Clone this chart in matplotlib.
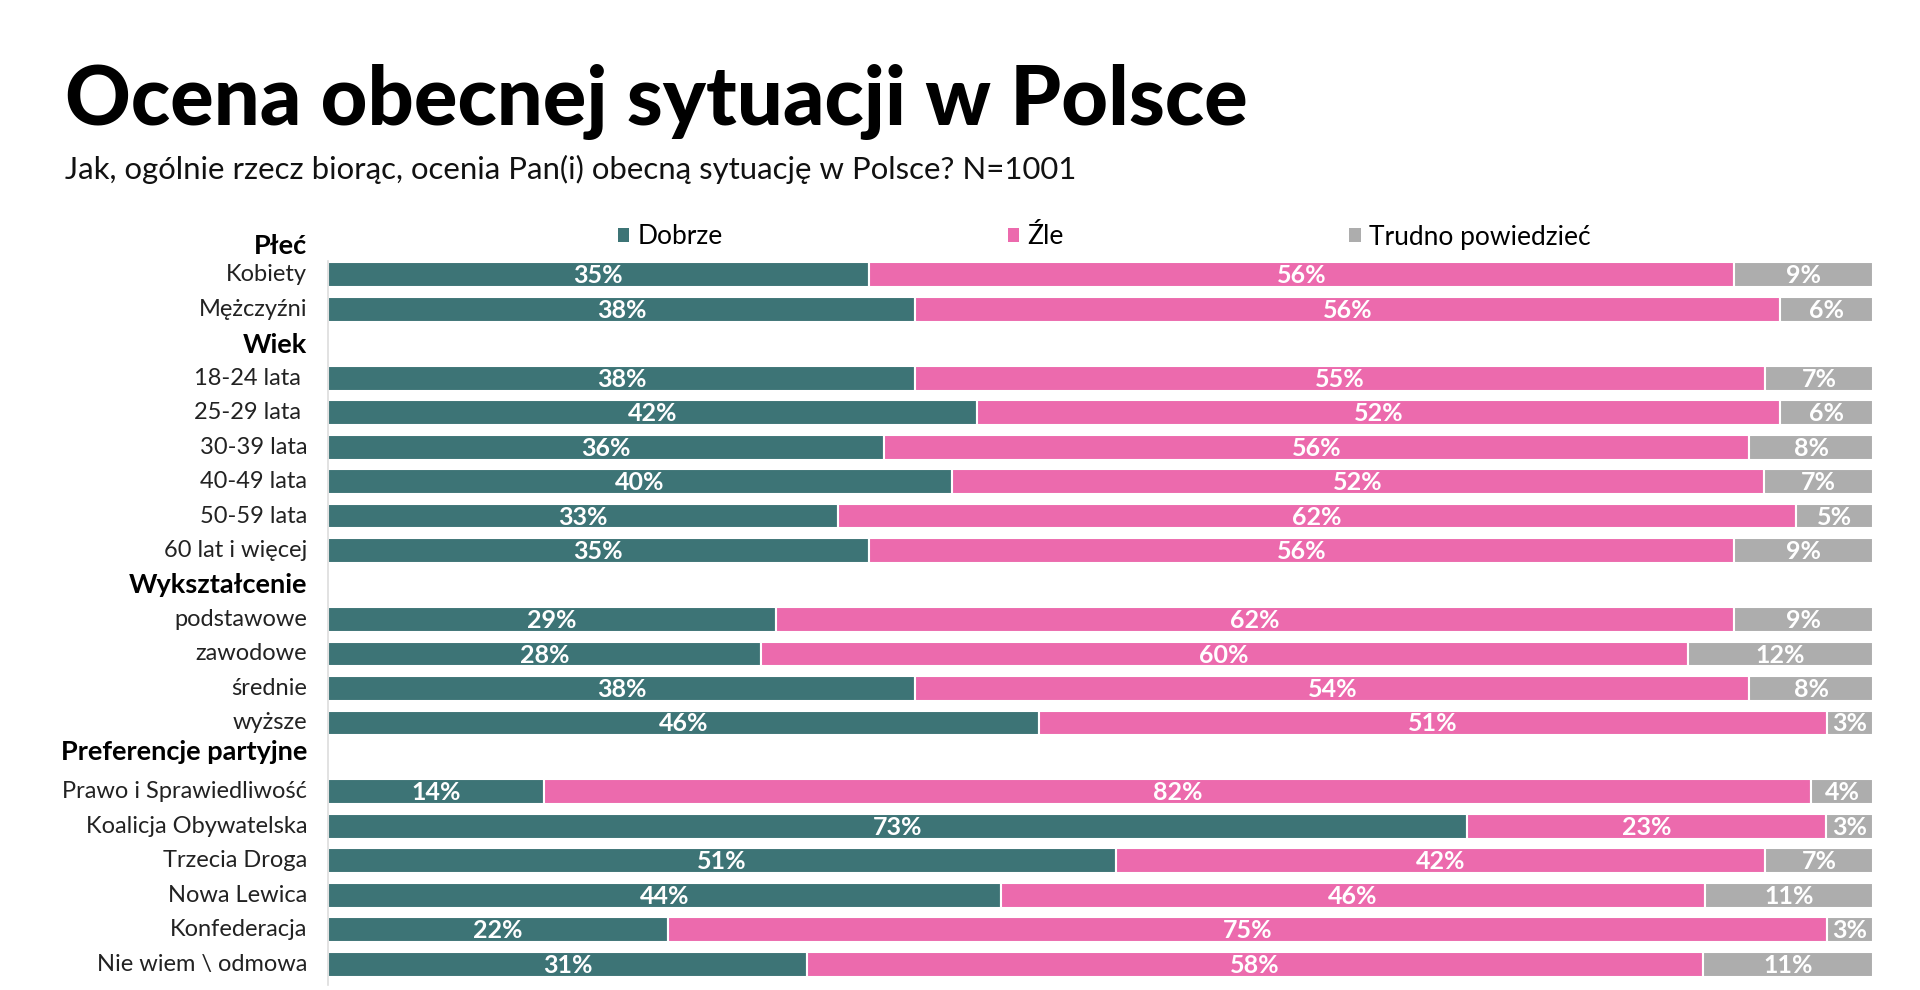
import numpy as np
import matplotlib
import matplotlib.pyplot as plt
from matplotlib.patches import Patch
from matplotlib.transforms import blended_transform_factory

matplotlib.use('Agg')

plt.rcParams['font.family'] = ['Lato', 'DejaVu Sans']

title = "Ocena obecnej sytuacji w Polsce"
subtitle = "Jak, ogólnie rzecz biorąc, ocenia Pan(i) obecną sytuację w Polsce? N=1001"

series = ["Dobrze", "Źle", "Trudno powiedzieć"]
colors = ["#3d7476", "#ec6aad", "#adadad"]

groups = ["Płeć", "Wiek", "Wykształcenie", "Preferencje partyjne"]

labels = [
    "Kobiety", "Mężczyźni",
    "18-24 lata ", "25-29 lata ", "30-39 lata", "40-49 lata", "50-59 lata", "60 lat i więcej",
    "podstawowe", "zawodowe", "średnie", "wyższe",
    "Prawo i Sprawiedliwość", "Koalicja Obywatelska", "Trzecia Droga", "Nowa Lewica",
    "Konfederacja", "Nie wiem \\ odmowa",
]
group_of = [0, 0, 1, 1, 1, 1, 1, 1, 2, 2, 2, 2, 3, 3, 3, 3, 3, 3]

dobrze = [35, 38, 38, 42, 36, 40, 33, 35, 29, 28, 38, 46, 14, 73, 51, 44, 22, 31]
zle = [56, 56, 55, 52, 56, 52, 62, 56, 62, 60, 54, 51, 82, 23, 42, 46, 75, 58]
trudno = [9, 6, 7, 6, 8, 7, 5, 9, 9, 12, 8, 3, 4, 3, 7, 11, 3, 11]

# row slots: a header slot between groups
ypos = []
slot = 0
prev = 0
for g in group_of:
    if g != prev:
        slot += 1
        prev = g
    ypos.append(slot)
    slot += 1
ypos = np.array(ypos, dtype=float)
header_y = [-0.82, 2.05, 9.0, 13.85]

vals = np.array([dobrze, zle, trudno], dtype=float)
shares = vals / vals.sum(axis=0) * 100

fig = plt.figure(figsize=(19.2, 9.9), dpi=100)
ax = fig.add_axes([328 / 1920, 5 / 990, 1545 / 1920, (985 - 254) / 990])

left = np.zeros(len(labels))
for i, name in enumerate(series):
    ax.barh(ypos, shares[i], left=left, height=0.72, color=colors[i],
            edgecolor='white', linewidth=1.5, label=name)
    for y, l, w, v in zip(ypos, left, shares[i], vals[i]):
        ax.text(l + w / 2, y + 0.03, f"{int(v)}%", ha='center', va='center',
                color='white', fontsize=18, fontweight='bold')
    left += shares[i]

ax.set_xlim(0, 100)
ax.set_ylim(20.6, -0.6)
ax.set_xticks([])
ax.set_yticks([])
for s in ['top', 'right', 'bottom']:
    ax.spines[s].set_visible(False)
ax.spines['left'].set_color('#dddddd')
ax.spines['left'].set_linewidth(1.2)
ax.spines['left'].set_bounds(-0.4, 20.6)

tr = blended_transform_factory(ax.transAxes, ax.transData)
for y, lab in zip(ypos, labels):
    ax.text(-0.0135, y, lab, transform=tr, ha='right', va='center',
            fontsize=17, color='#222222')
for y, g in zip(header_y, groups):
    ax.text(-0.0135, y, g, transform=tr, ha='right', va='center',
            fontsize=19.5, fontweight='bold', color='#000000')

fig.text(65 / 1920, 1 - 102 / 990, title, fontsize=58.5, fontweight='black',
         ha='left', va='center', color='#000000')
fig.text(65 / 1920, 1 - 169 / 990, subtitle, fontsize=22.4,
         ha='left', va='center', color='#111111')

handles = [Patch(facecolor=c, edgecolor='none') for c in colors]
fig.legend(handles, series, loc='center left', bbox_to_anchor=(607 / 1920, 1 - 237 / 990),
           ncol=3, frameon=False, fontsize=19, handlelength=0.45, handleheight=0.45,
           handletextpad=0.3, columnspacing=10.8, borderaxespad=0)

plt.savefig('out.png', dpi=100)
